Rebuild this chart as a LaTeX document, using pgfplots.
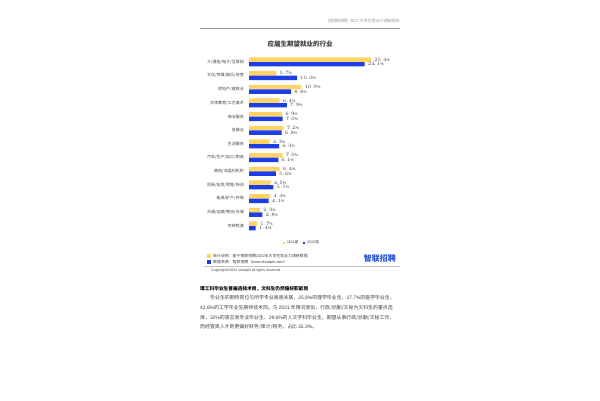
\documentclass[border=0pt]{standalone}
\usepackage{fontspec}
\setmainfont{Noto Sans CJK SC}
\newfontfamily\lat{Liberation Sans}
\usepackage{pgfplots}
\usepackage{pgfplotstable}
\pgfplotsset{compat=1.18}
\definecolor{yellowc}{RGB}{255,212,100}
\definecolor{bluec}{RGB}{28,62,228}
\definecolor{txtc}{RGB}{64,64,64}
\definecolor{grayc}{RGB}{150,150,150}
\definecolor{logoc}{RGB}{36,80,214}
\newcommand{\fs}[1]{\fontsize{#1}{#1}\selectfont}
\pgfplotstableread{
y a b
0 25.4 24.1
1 5.7 10.0
2 10.9 8.8
3 6.4 7.9
4 6.9 7.0
5 7.2 6.8
6 4.3 6.3
7 7.0 6.1
8 6.4 5.6
9 4.5 5.1
10 4.4 4.1
11 2.3 2.8
12 1.7 1.4
}\data
\begin{document}
\begin{tikzpicture}[x=1pt,y=1pt]
\useasboundingbox (0,0) rectangle (600,400);
\fill[white] (0,0) rectangle (600,400);
% header
\node[anchor=east,inner sep=0pt,text=grayc] at (400,379) {\fs{4}【智联招聘】{\lat 2022} 大学生就业力调研报告};
\draw[grayc,line width=0.6pt] (200,372) -- (400,372);
% title
\node[inner sep=0pt,text=txtc] at (300,355.5) {\fs{6.5}\bfseries 应届生期望就业的行业};
\begin{axis}[
  at={(249pt,167.2pt)}, anchor=south west,
  scale only axis, width=144pt, height=177.7pt,
  xbar, bar width=4.4pt,
  xmin=0, xmax=30, ymin=-0.5, ymax=12.5, y dir=reverse,
  axis x line=none,
  axis y line*=left, y axis line style={draw=none},
  major tick length=0pt,
  ytick={0,...,12},
  yticklabels={{\lat IT}/通信/电子/互联网,文化/传媒/娱乐/体育,房地产/建筑业,文体教育/工艺美术,商业服务,金融业,生活服务,汽车/生产/加工/制造,政府/非盈利机构,贸易/批发/零售/快消,能源/矿产/环保,交通/运输/物流/仓储,农林牧渔},
  yticklabel style={font=\fs{4}, text=txtc, anchor=east, inner sep=0pt, xshift=-5pt},
  nodes near coords={\pgfmathprintnumber[fixed,precision=1,fixed zerofill]{\pgfplotspointmeta}\%},
  point meta=x,
  nodes near coords style={font=\lat\fs{3.8}, text=txtc, anchor=west, inner sep=0pt, xshift=3pt},
  legend columns=2,
  legend style={draw=none, fill=none, font=\fs{3.6}, text=txtc, at={(axis description cs:0.368,-0.057)}, anchor=center,
    /tikz/every even column/.append style={column sep=3pt}},
  legend image code/.code={\fill[#1,draw=none] (0pt,-0.9pt) rectangle (1.8pt,0.9pt);},
  clip=false,
]
\addplot[fill=yellowc, draw=none, bar shift=2.3pt] table[x=a,y=y]{\data};
\addplot[fill=bluec, draw=none, bar shift=-2.3pt] table[x=b,y=y]{\data};
\legend{{\lat 2021}届,{\lat 2022}届}
\end{axis}
% footer
\fill[yellowc] (206.5,142) rectangle (210.5,146);
\node[anchor=west,inner sep=0pt,text=txtc] at (213,144) {\fs{3.9}统计说明：基于智联招聘{\lat 2022}年大学生就业力调研数据};
\fill[bluec] (206.5,136) rectangle (210.5,140);
\node[anchor=west,inner sep=0pt,text=txtc] at (213,138) {\fs{3.9}数据来源：智联招聘（{\lat www.zhaopin.com}）};
\node[anchor=east,inner sep=0pt,text=logoc] at (396,142) {\fs{8}\bfseries 智联招聘};
\draw[grayc!60,line width=0.6pt] (204,133.5) -- (400,133.5);
\node[anchor=west,inner sep=0pt,text=txtc] at (211,129) {\lat\fs{3.6}Copyright©2022 zhaopin all rights reserved};
% text
\node[anchor=west,inner sep=0pt,text=black] at (200,111.5) {\fs{4.7}\bfseries 理工科毕业生普遍选技术岗，文科生仍然偏好职能岗};
\node[anchor=west,inner sep=0pt,text=txtc] at (210,102) {\fs{4.9}毕业生的期待岗位与所学专业高度关联，{\lat 25.8\%}的理学毕业生、{\lat 27.7\%}的医学毕业生、};
\node[anchor=west,inner sep=0pt,text=txtc] at (200,92.3) {\fs{4.9}{\lat 42.6\%}的工学毕业生期待技术岗。与 {\lat 2021} 年情况类似，行政/后勤/文秘为文科生的重点选};
\node[anchor=west,inner sep=0pt,text=txtc] at (200,82.6) {\fs{4.9}择，{\lat 32\%}的语言类专业毕业生、{\lat 29.6\%}的人文学科毕业生，期望从事行政/后勤/文秘工作，};
\node[anchor=west,inner sep=0pt,text=txtc] at (200,72.9) {\fs{4.9}而经管类人才则更偏好财务/审计/税务，占比 {\lat 35.3\%}。};
\end{tikzpicture}
\end{document}
